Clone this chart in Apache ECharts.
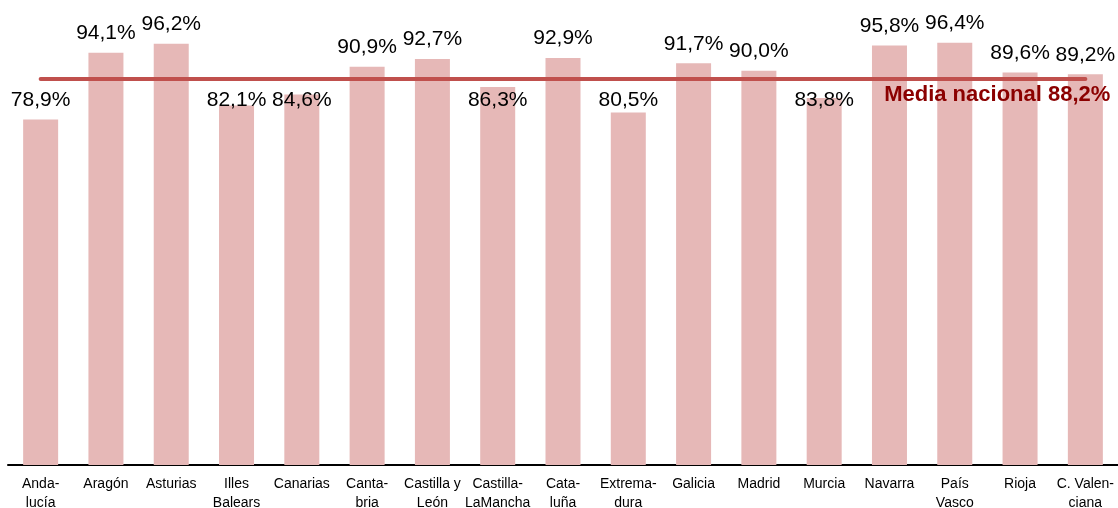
<!DOCTYPE html>
<html>
<head>
<meta charset="utf-8">
<script src="https://cdn.jsdelivr.net/npm/echarts@6/dist/echarts.min.js"></script>
<style>
  html, body { margin: 0; padding: 0; background: #fff; }
  #chart { width: 1118px; height: 508px; }
</style>
</head>
<body>
<div id="chart"></div>
<script>
const regiones = ['Anda-\nlucía', 'Aragón', 'Asturias', 'Illes\nBalears', 'Canarias', 'Canta-\nbria',
  'Castilla y\nLeón', 'Castilla-\nLaMancha', 'Cata-\nluña', 'Extrema-\ndura', 'Galicia', 'Madrid',
  'Murcia', 'Navarra', 'País\nVasco', 'Rioja', 'C. Valen-\nciana'];
const porcentajes = [78.9, 94.1, 96.2, 82.1, 84.6, 90.9, 92.7, 86.3, 92.9, 80.5, 91.7, 90.0, 83.8, 95.8, 96.4, 89.6, 89.2];
const mediaNacional = 88.2;

const fuente = "'Liberation Sans Narrow', 'Liberation Sans', Arial, sans-serif";
const fmt = v => v.toFixed(1).replace('.', ',') + '%';

const chart = echarts.init(document.getElementById('chart'));

function buildOption(offsets) {
  return {
    animation: false,
    backgroundColor: '#fff',
    grid: { left: 8, right: 0, top: 27, bottom: 43, containLabel: false, outerBoundsMode: 'none' },
    xAxis: {
      type: 'category',
      data: regiones,
      axisLine: { lineStyle: { color: '#000', width: 2 } },
      axisTick: { show: false },
      axisLabel: {
        color: '#000',
        fontFamily: fuente,
        fontSize: 14,
        lineHeight: 19,
        margin: 10,
        interval: 0
      }
    },
    yAxis: {
      type: 'value',
      min: 0,
      max: 100,
      show: false,
      splitLine: { show: false }
    },
    series: [{
      type: 'bar',
      barWidth: 35,
      data: porcentajes.map((v, i) => ({
        value: v,
        label: { offset: [0, offsets[i]] }
      })),
      itemStyle: { color: '#e6b8b7' },
      label: {
        show: true,
        position: 'top',
        distance: 9,
        color: '#000',
        fontFamily: fuente,
        fontSize: 21,
        formatter: p => fmt(p.value)
      },
      markLine: {
        silent: true,
        symbol: ['none', 'none'],
        lineStyle: { color: '#c0504d', width: 4, type: 'solid', cap: 'round' },
        label: {
          show: true,
          position: 'insideEndBottom',
          distance: 5,
          offset: [30, 0],
          color: '#8b0000',
          fontFamily: fuente,
          fontWeight: 'bold',
          fontSize: 22,
          formatter: () => 'Media nacional ' + fmt(mediaNacional)
        },
        data: [[
          { coord: [regiones[0], mediaNacional] },
          { coord: [regiones[regiones.length - 1], mediaNacional] }
        ]]
      }
    }]
  };
}

// first pass without offsets, then push labels that would hit the mean line below it
chart.setOption(buildOption(porcentajes.map(() => 0)));
const lineY = chart.convertToPixel({ seriesIndex: 0 }, [0, mediaNacional])[1];
const offsets = porcentajes.map((v, i) => {
  const top = chart.convertToPixel({ seriesIndex: 0 }, [i, v])[1];
  const labelY = top - 9 - 11;
  if (v < mediaNacional && labelY < lineY + 21) {
    return (lineY + 21) - labelY;
  }
  return 0;
});
chart.setOption(buildOption(offsets));
</script>
</body>
</html>
